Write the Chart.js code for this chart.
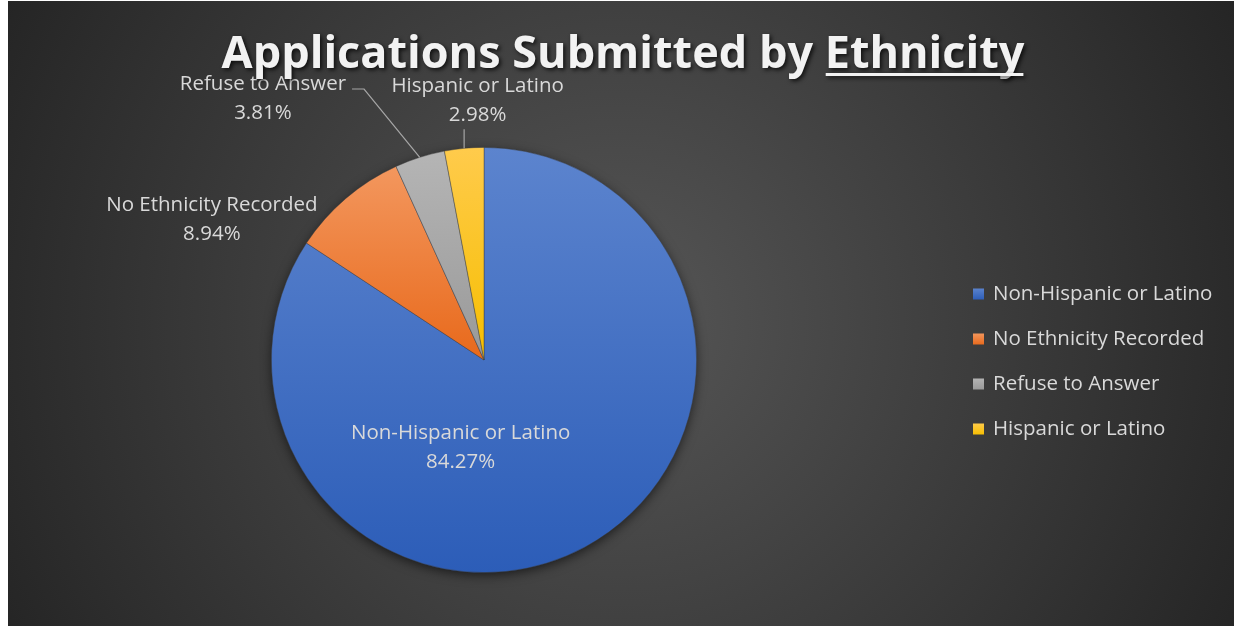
<!DOCTYPE html>
<html>
<head>
<meta charset="utf-8">
<script src="https://cdn.jsdelivr.net/npm/chart.js@4.4.1/dist/chart.umd.min.js"></script>
<style>
  html, body { margin: 0; padding: 0; background: #fff; }
  canvas { display: block; }
</style>
</head>
<body>
<canvas id="chart" width="1237" height="627"></canvas>
<script>
// Data.
const categories = ['Non-Hispanic or Latino', 'No Ethnicity Recorded', 'Refuse to Answer', 'Hispanic or Latino'];
const shares = [84.27, 8.94, 3.81, 2.98];
const titleText = 'Applications Submitted by ';
const titleUnderlined = 'Ethnicity';

// Styles.
const topColors = ['#5C84CE', '#F3975E', '#B5B5B5', '#FFCB4C'];
const bottomColors = ['#2C5DB8', '#E8691B', '#999999', '#F6BE00'];
const textColor = '#d9d9d9';
const labelFont = '20.5px "Open Sans"';

// Label centre relative to the pie centre, in radii; leader line on/off.
const labelPlacement = [[-0.11, 0.41], [-1.28, -0.66], [-1.04, -1.23], [-0.03, -1.22]];
const leaderLines = [false, false, true, true];

function sliceFill(context) {
    const chart = context.chart;
    const area = chart.chartArea;
    const i = context.dataIndex;
    if (!area) return bottomColors[i];
    const cx = (area.left + area.right) / 2;
    const cy = (area.top + area.bottom) / 2;
    const r = Math.min(area.width, area.height) / 2;
    const total = shares.reduce((a, b) => a + b, 0);
    const before = shares.slice(0, i).reduce((a, b) => a + b, 0);
    const start = before / total * 2 * Math.PI - Math.PI / 2;
    const end = start + shares[i] / total * 2 * Math.PI;
    let ymin = cy, ymax = cy;
    for (let k = 0; k <= 90; k++) {
        const y = cy + r * Math.sin(start + (end - start) * k / 90);
        ymin = Math.min(ymin, y);
        ymax = Math.max(ymax, y);
    }
    const g = chart.ctx.createLinearGradient(0, ymin, 0, ymax);
    g.addColorStop(0, topColors[i]);
    g.addColorStop(1, bottomColors[i]);
    return g;
}

const backgroundPlugin = {
    id: 'background',
    beforeDraw(chart) {
        const ctx = chart.ctx;
        ctx.save();
        ctx.fillStyle = '#ffffff';
        ctx.fillRect(0, 0, chart.width, chart.height);
        const g = ctx.createRadialGradient(620, 320, 0, 620, 320, 720);
        g.addColorStop(0, '#565656');
        g.addColorStop(1, '#232323');
        ctx.fillStyle = g;
        ctx.fillRect(8, 1, 1226, 625);
        ctx.restore();
    },
    beforeDatasetsDraw(chart) {
        // soft shadow under the pie
        const arc = chart.getDatasetMeta(0).data[0];
        if (!arc) return;
        const ctx = chart.ctx;
        ctx.save();
        ctx.shadowColor = 'rgba(0,0,0,0.65)';
        ctx.shadowBlur = 12;
        ctx.shadowOffsetY = 3;
        ctx.fillStyle = '#2C5DB8';
        ctx.beginPath();
        ctx.arc(arc.x, arc.y, arc.outerRadius - 1, 0, Math.PI * 2);
        ctx.fill();
        ctx.restore();
    }
};

const labelsPlugin = {
    id: 'sliceLabels',
    afterDatasetsDraw(chart) {
        const ctx = chart.ctx;
        const meta = chart.getDatasetMeta(0);
        ctx.save();
        ctx.font = labelFont;
        ctx.fillStyle = textColor;
        ctx.textAlign = 'center';
        ctx.textBaseline = 'middle';
        meta.data.forEach((arc, i) => {
            const r = arc.outerRadius;
            const lx = arc.x + labelPlacement[i][0] * r;
            const ly = arc.y + labelPlacement[i][1] * r;
            const line1 = chart.data.labels[i];
            const line2 = chart.data.datasets[0].data[i].toFixed(2) + '%';
            const y1 = ly - 14.5, y2 = ly + 14.5;
            ctx.fillText(line1, lx, y1);
            ctx.fillText(line2, lx, y2);
            if (leaderLines[i]) {
                const mid = (arc.startAngle + arc.endAngle) / 2;
                const px = arc.x + Math.cos(mid) * r;
                const py = arc.y + Math.sin(mid) * r;
                const half = ctx.measureText(line1).width / 2;
                ctx.beginPath();
                ctx.strokeStyle = '#a6a6a6';
                ctx.lineWidth = 1.2;
                ctx.moveTo(px, py);
                if (Math.abs(px - lx) < half) {
                    ctx.lineTo(px, y2 + 14);
                } else {
                    ctx.lineTo(lx + half + 18, y1 + 5);
                    ctx.lineTo(lx + half + 6, y1 + 5);
                }
                ctx.stroke();
            }
        });
        ctx.restore();
    },
    afterDraw(chart) {
        const ctx = chart.ctx;
        ctx.save();
        // title, fitted to the reference width
        let size = 40;
        ctx.font = 'bold ' + size + 'px "Open Sans"';
        const w0 = ctx.measureText(titleText + titleUnderlined).width;
        size = size * 803 / w0;
        ctx.font = 'bold ' + size.toFixed(2) + 'px "Open Sans"';
        const wa = ctx.measureText(titleText).width;
        const wb = ctx.measureText(titleUnderlined).width;
        const x0 = 623 - (wa + wb) / 2;
        const base = 68;
        ctx.textAlign = 'left';
        ctx.textBaseline = 'alphabetic';
        ctx.shadowColor = 'rgba(0,0,0,0.75)';
        ctx.shadowBlur = 4;
        ctx.shadowOffsetX = 2;
        ctx.shadowOffsetY = 2;
        ctx.fillStyle = '#f2f2f2';
        ctx.fillText(titleText, x0, base);
        ctx.fillText(titleUnderlined, x0 + wa, base);
        ctx.fillRect(x0 + wa + 1, base + 5, wb - 2, 3);

        // legend
        ctx.shadowColor = 'transparent';
        ctx.font = labelFont;
        ctx.textBaseline = 'middle';
        chart.data.labels.forEach((name, i) => {
            const y = 294 + i * 45;
            const g = ctx.createLinearGradient(0, y - 6, 0, y + 6);
            g.addColorStop(0, topColors[i]);
            g.addColorStop(1, bottomColors[i]);
            ctx.fillStyle = g;
            ctx.fillRect(973, y - 5.5, 11, 11);
            ctx.fillStyle = textColor;
            ctx.fillText(name, 993, y);
        });
        ctx.restore();
    }
};

new Chart(document.getElementById('chart'), {
    type: 'pie',
    data: {
        labels: categories,
        datasets: [{
            data: shares,
            backgroundColor: sliceFill,
            borderColor: 'rgba(60,60,60,0.55)',
            borderWidth: 0.8
        }]
    },
    options: {
        responsive: false,
        animation: false,
        events: [],
        layout: { padding: { left: 271, right: 540, top: 147, bottom: 54 } },
        plugins: {
            legend: { display: false },
            tooltip: { enabled: false },
            title: { display: false }
        }
    },
    plugins: [backgroundPlugin, labelsPlugin]
});
</script>
</body>
</html>
